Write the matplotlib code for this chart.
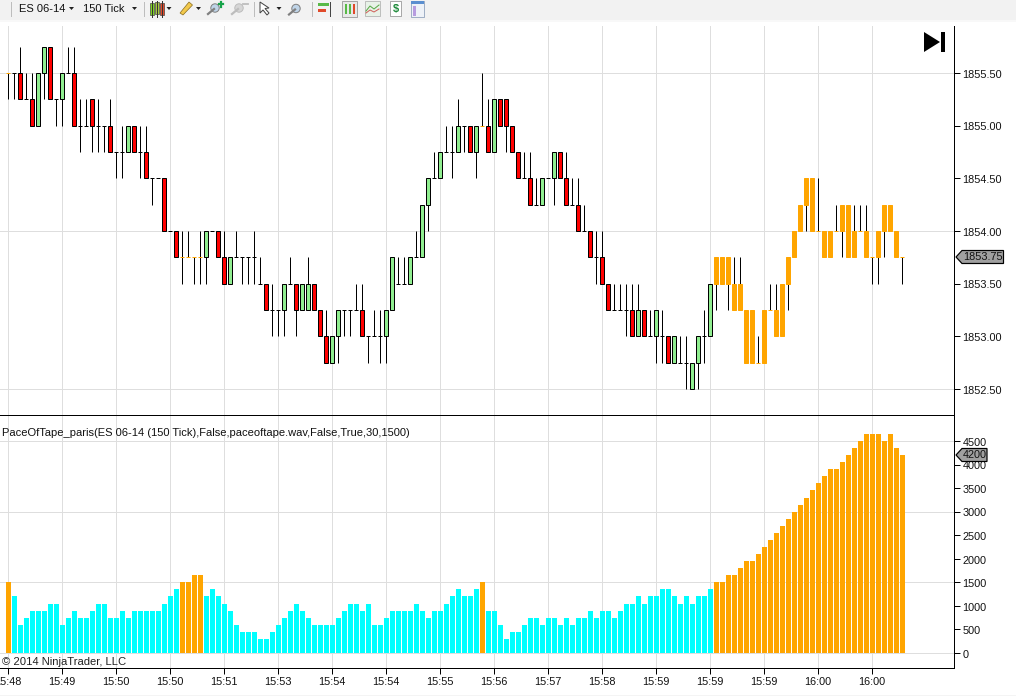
import matplotlib
matplotlib.use("Agg")
import matplotlib.pyplot as plt
from matplotlib.patches import Polygon, Rectangle, Circle
from matplotlib.transforms import ScaledTranslation

W, H = 1016, 696
plt.rcParams['font.family'] = ['Liberation Sans', 'DejaVu Sans']

# prices expressed as quarter-point ticks above the base price
BASE_PRICE = 1852.5
TICK = 0.25
opens = [12,12,12,11,11,10,12,13,11,11, 12,12,10,10,11,10,10,10,9,9,
         9,10,9,9,8,8,8,6,6,5, 5,5,5,5,6,6,5,4,5,5,
         5,5,4,4,3,3,3,4,4,3, 3,4,3,2,1,2,3,3,3,3,
         2,2,2,2,3,4,4,4,5,5, 7,8,8,9,9,9,10,10,9,10,
         10,9,11,11,10,9,8,8,7,7, 8,8,9,8,7,7,6,6,5,5,
         4,3,3,3,3,2,3,2,2,2, 2,1,1,1,0,1,2,2,4,4,
         4,4,4,3,3,1,1,3,3,2, 4,5,6,7,8,6,6,5,6,6,
         7,6,6,6,5,5,6,7,6,5]
closes = [12,12,11,11,10,12,13,11,11,12, 12,10,10,10,10,10,10,9,9,9,
          10,9,9,8,8,8,6,6,5,5, 5,5,5,6,6,5,4,5,5,5,
          5,5,4,3,3,3,4,4,3,4, 4,3,2,1,2,3,3,3,3,2,
          2,2,2,3,5,4,4,5,5,7, 8,8,9,9,9,10,10,9,10,10,
          9,11,10,10,9,8,8,7,7,8, 8,9,8,7,7,6,6,5,5,4,
          3,3,3,3,2,3,2,2,3,2, 1,2,1,1,1,2,2,4,5,5,
          5,3,3,1,1,1,3,3,2,4, 5,6,7,8,6,6,5,6,6,7,
          5,5,6,5,5,6,7,6,5,5]
highs = [12,12,13,12,12,12,13,13,11,12, 13,13,11,11,11,11,10,11,9,10,
         10,10,10,10,8,8,8,6,6,6, 6,5,6,6,6,6,6,5,6,5,
         5,6,5,4,4,3,4,5,4,4, 5,4,3,3,2,3,3,3,4,4,
         2,3,3,3,5,5,5,5,6,7, 8,9,9,10,10,11,10,10,10,12,
         11,11,11,11,10,9,9,9,8,8, 8,9,9,9,8,8,7,6,6,6,
         4,4,4,4,4,4,3,3,3,3, 2,2,2,2,1,2,3,4,5,5,
         5,5,5,3,3,2,3,4,4,4, 5,6,7,8,8,8,6,6,7,7,
         7,7,7,7,5,6,7,7,6,5]
lows = [11,11,11,11,10,10,11,11,10,10, 12,10,9,10,9,9,9,9,8,8,
        9,9,8,8,7,8,6,6,5,4, 5,4,4,4,6,5,4,4,5,4,
        4,4,4,3,2,2,2,4,2,3, 3,3,2,1,1,1,2,2,3,2,
        1,2,1,1,3,4,4,4,5,5, 6,8,8,9,8,9,9,9,8,10,
        9,9,10,9,9,8,8,7,7,7, 8,7,8,7,7,6,6,5,4,4,
        3,3,3,2,2,2,2,2,1,1, 1,1,1,0,0,0,1,2,3,4,
        3,3,3,1,1,1,1,3,2,2, 3,5,6,6,6,6,5,5,6,5,
        5,5,6,5,4,4,5,6,5,4]
pace = [1500,1200,600,750,900,900,900,1050,1050,600,
        750,900,750,750,900,1050,1050,750,750,900,
        750,900,900,900,900,900,1050,1200,1350,1500,
        1500,1650,1650,1200,1350,1200,1050,900,600,450,
        450,450,300,300,450,600,750,900,1050,900,
        750,600,600,600,600,750,900,1050,1050,900,
        1050,600,600,750,900,900,900,900,1050,900,
        750,900,900,1050,1200,1350,1200,1200,1350,1500,
        900,900,600,300,450,450,600,750,750,600,
        750,750,600,750,600,750,750,900,750,900,
        900,750,900,1050,1050,1200,1050,1200,1200,1350,
        1350,1200,1050,1200,1050,1200,1200,1350,1500,1500,
        1650,1650,1800,1950,1950,2100,2250,2400,2550,2700,
        2850,3000,3150,3300,3450,3600,3750,3900,3900,4050,
        4200,4350,4500,4650,4650,4650,4500,4650,4350,4200]
PACE_THRESHOLD = 1500

time_labels = ['15:48','15:49','15:50','15:50','15:51','15:53','15:54','15:54','15:55',
               '15:56','15:57','15:58','15:59','15:59','15:59','16:00','16:00']
TIME_STEP = 9
price_ticks = [1852.5,1853.0,1853.5,1854.0,1854.5,1855.0,1855.5]
price_grid = [1852.5,1854.0,1855.5]
pace_ticks = [0,500,1000,1500,2000,2500,3000,3500,4000,4500]
pace_grid = [0,1500,3000,4500]
indicator_label = 'PaceOfTape_paris(ES 06-14 (150 Tick),False,paceoftape.wav,False,True,30,1500)'

C_GREEN, C_RED, C_ORANGE, C_CYAN, C_GRID = '#90EE90', '#FF0000', '#FFA500', '#00FFFF', '#DEDEDE'
PX = 0.72  # one pixel in points

fig = plt.figure(figsize=(W/100, H/100), dpi=100, facecolor='white')

def axes_px(x0, y0, x1, y1, **kw):
    return fig.add_axes([x0/W, 1-y1/H, (x1-x0)/W, (y1-y0)/H], **kw)

AX_R = 954
Y_TOP, Y_DIV, Y_BOT = 26, 415, 668
FIRST_X = 8
ax1 = axes_px(0, Y_TOP, AX_R, Y_DIV, zorder=3)
ax2 = axes_px(0, Y_DIV, AX_R, Y_BOT, zorder=2)
xlim = ((0-FIRST_X)/6, (AX_R-FIRST_X)/6)
for ax in (ax1, ax2):
    ax.set_xlim(*xlim)
    ax.set_facecolor('white')
    ax.set_axisbelow(True)
    ax.yaxis.tick_right()
    ax.spines['left'].set_visible(False)
    ax.spines['top'].set_visible(False)
    ax.spines['right'].set_linewidth(PX)
    ax.spines['bottom'].set_linewidth(PX)
    ax.set_xticks(range(0, 150, TIME_STEP))
    ax.grid(axis='x', color=C_GRID, lw=PX)

px_per_price = (389-73)/3.0
ax1.set_ylim(1855.5-(Y_DIV-73)/px_per_price, 1855.5+(73-Y_TOP)/px_per_price)
px_per_pace = (653-441)/4500
ax2.set_ylim(-(Y_BOT-653)/px_per_pace, 4500+(441-Y_DIV)/px_per_pace)

for v in price_grid:
    ax1.axhline(v, color=C_GRID, lw=PX, zorder=0.5)
for v in pace_grid:
    ax2.axhline(v, color=C_GRID, lw=PX, zorder=0.5)

ax1.set_yticks(price_ticks)
ax1.set_yticklabels([f'{v:.2f}' for v in price_ticks], fontsize=7.8, color='#111111')
ax2.set_yticks(pace_ticks)
ax2.set_yticklabels([str(v) for v in pace_ticks], fontsize=7.8, color='#111111')
ax1.tick_params(axis='x', length=0, labelbottom=False)
ax1.tick_params(axis='y', length=4, width=PX, pad=2)
ax2.tick_params(axis='y', length=4, width=PX, pad=2)
ax2.tick_params(axis='x', length=4, width=PX, pad=2.5)
ax2.set_xticklabels(time_labels, fontsize=7.8, color='#111111')
nudge = ScaledTranslation(0, -0.8/100, fig.dpi_scale_trans)
for ax in (ax1, ax2):
    for lab in ax.get_yticklabels():
        lab.set_transform(lab.get_transform() + nudge)

to_price = lambda t: BASE_PRICE + TICK*t
for k in range(len(opens)):
    o, c, h, l = map(to_price, (opens[k], closes[k], highs[k], lows[k]))
    hot = pace[k] >= PACE_THRESHOLD
    if h > l:
        ax1.plot([k, k], [l, h], color='black', lw=PX, solid_capstyle='butt', zorder=2)
    if o == c:
        ax1.plot([k-2.5/6, k+2/6], [o, o], color=C_ORANGE if hot else 'black',
                 lw=PX, solid_capstyle='butt', zorder=3)
    else:
        face = C_ORANGE if hot else (C_GREEN if c > o else C_RED)
        ax1.bar(k, abs(c-o), bottom=min(o, c), width=4/6, color=face,
                edgecolor=C_ORANGE if hot else 'black', linewidth=PX, zorder=3)

pace_colors = [C_ORANGE if v >= PACE_THRESHOLD else C_CYAN for v in pace]
ax2.bar(range(len(pace)), pace, width=5/6, color=pace_colors, linewidth=0, zorder=2)

# pixel-space overlay for furniture
ov = fig.add_axes([0, 0, 1, 1], zorder=10)
ov.set_xlim(0, W); ov.set_ylim(H, 0); ov.axis('off'); ov.patch.set_alpha(0)

ov.text(2, 433, indicator_label, fontsize=8.0, va='center', ha='left', color='#111111')
ov.text(2, 662, '\u00a9 2014 NinjaTrader, LLC', fontsize=8.1, va='center', ha='left', color='#222222')

# end-of-chart button
ov.add_patch(Polygon([(924, 32), (924, 52), (940, 42)], closed=True, color='black', lw=0))
ov.add_patch(Rectangle((941, 32), 4, 20, color='black', lw=0))

# last-value tags
def tag(x0, x1, y0, y1, label, fs):
    ym = (y0+y1)/2
    ov.add_patch(Polygon([(x0, ym), (x0+6, y0), (x1, y0), (x1, y1), (x0+6, y1)], closed=True,
                         facecolor='#A0A0A0', edgecolor='black', lw=PX*1.2))
    ov.text((x0+6+x1)/2+0.5, ym+0.3, label, fontsize=fs, ha='center', va='center', color='#111111')
tag(956, 1003.5, 250.5, 263.5, f'{to_price(closes[-1]):.2f}', 7.8)
tag(956, 987, 448.5, 461.5, str(pace[-1]), 7.8)

# toolbar
ov.add_patch(Rectangle((0, 0), W, 20, color='#F2F2F2', lw=0))
ov.add_patch(Rectangle((0, 20), W, 1.5, color='#F8F8F8', lw=0))
for x in (11, 144, 254, 312):
    ov.plot([x, x], [2, 16], color='#BDBDBD', lw=PX)
ov.text(19, 8.5, 'ES 06-14', fontsize=8, va='center', ha='left', color='#111111')
ov.text(83, 8.5, '150 Tick', fontsize=8, va='center', ha='left', color='#111111')
for x in (71.5, 134.5, 169, 198.5, 279):
    ov.add_patch(Polygon([(x-2.5, 7), (x+2.5, 7), (x, 10)], closed=True, color='#222222', lw=0))
# candle icon
for x, col, y0, y1 in ((152, '#7ED321', 3, 15), (157, '#A6C83C', 2, 14), (162, '#E04A2A', 3, 15)):
    ov.plot([x, x], [1, 17], color='#333333', lw=PX)
    ov.add_patch(Rectangle((x-1.7, y0), 3.4, y1-y0, facecolor=col, edgecolor='#333333', lw=PX*0.6))
# pencil
ov.add_patch(Polygon([(180, 13), (189, 2), (192.5, 5), (183, 15)], closed=True,
                     facecolor='#F2C94C', edgecolor='#8A6D1F', lw=PX*0.7))
# zoom icons
def lens(x, y, col, rim):
    ov.plot([x-7, x-1], [y+6, y+1], color=rim, lw=1.6)
    ov.add_patch(Circle((x, y), 4.2, facecolor=col, edgecolor=rim, lw=PX))
lens(215, 8, '#BFD4E8', '#808080')
ov.plot([221, 221], [2, 6.5], color='#16A34A', lw=1.6); ov.plot([218.7, 223.3], [4.2, 4.2], color='#16A34A', lw=1.6)
lens(239, 8, '#D6D6D6', '#BDBDBD')
ov.plot([243, 247.5], [4, 4], color='#BDBDBD', lw=1.3)
# cursor
ov.add_patch(Polygon([(260, 2), (260, 13), (263, 10), (267, 15), (269, 13), (265, 8.5), (269, 8)], closed=True,
                     facecolor='white', edgecolor='#444444', lw=PX))
lens(296, 8.5, '#BFD4E8', '#808080')
# panel icons
ov.add_patch(Rectangle((318, 3), 11, 3, color='#58B947', lw=0))
ov.add_patch(Rectangle((318, 9), 8, 3, color='#E04A2A', lw=0))
ov.plot([330, 330], [2, 16], color='#444444', lw=PX)
ov.add_patch(Rectangle((342, 1), 15, 16, facecolor='#E8E8E8', edgecolor='#888888', lw=PX*0.7))
for x, col in ((346, '#58B947'), (350, '#58B947'), (354, '#E04A2A')):
    ov.add_patch(Rectangle((x-1.3, 4), 2.6, 10, color=col, lw=0))
ov.add_patch(Rectangle((365, 1), 15, 15, facecolor='#E8F2E8', edgecolor='#AAAAAA', lw=PX*0.7))
ov.plot([366, 370, 374, 379], [11, 6, 9, 5], color='#58A947', lw=PX)
ov.plot([366, 370, 374, 379], [13, 10, 12, 9], color='#D0605A', lw=PX)
ov.add_patch(Rectangle((390, 1), 11, 15, facecolor='white', edgecolor='#888888', lw=PX*0.7))
ov.text(395.5, 9, '$', fontsize=8, ha='center', va='center', color='#1E8A3A', fontweight='bold')
ov.add_patch(Rectangle((411, 1), 13, 16, facecolor='#EEF2F8', edgecolor='#7F93B2', lw=PX*0.7))
ov.add_patch(Rectangle((411, 1), 13, 3, color='#5B8FD0', lw=0))
ov.add_patch(Rectangle((412.5, 6), 3, 10, color='#B79CE0', lw=0))

# bottom edge strip
ov.add_patch(Rectangle((0, 694.5), W, 1.5, color='#F4F4F4', lw=0))

fig.savefig('out.png', dpi=100, facecolor='white')
